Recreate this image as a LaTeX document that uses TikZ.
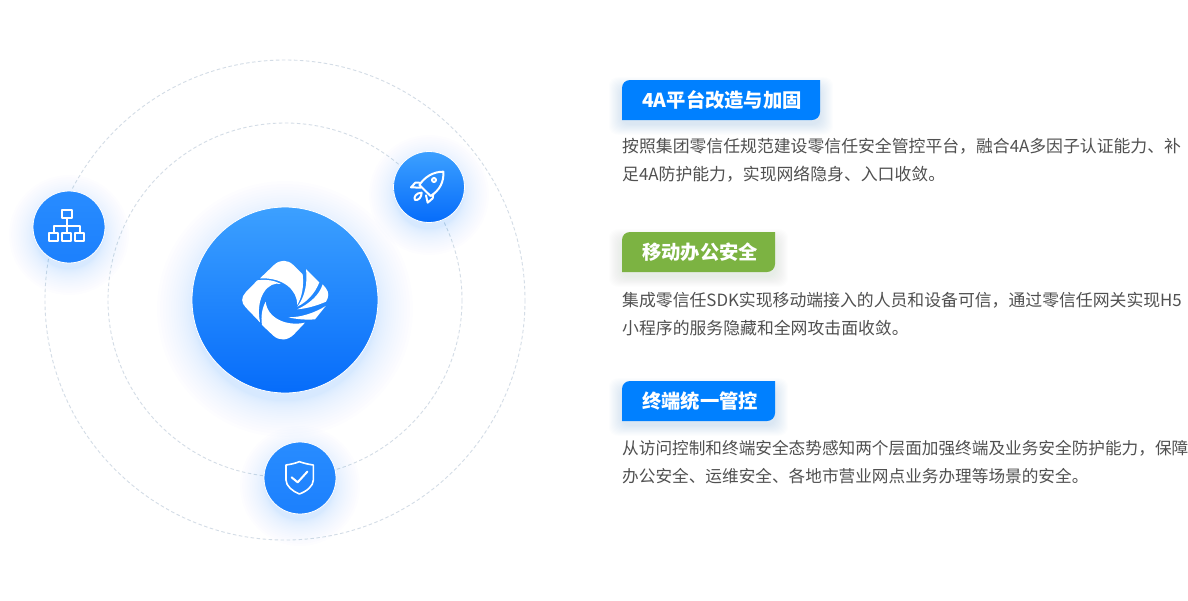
\documentclass[tikz,border=0pt]{standalone}
\usepackage{fontspec}
\setmainfont{Noto Sans CJK SC}
\usetikzlibrary{calc}

\definecolor{tagblue}{HTML}{0080FF}
\definecolor{taggreen}{HTML}{7CB342}
\definecolor{ringgray}{HTML}{D3DCE6}
\definecolor{bodygray}{HTML}{505050}
\definecolor{glowblue}{HTML}{1A7DFF}
\definecolor{hubhigh}{HTML}{3CA0FF}
\definecolor{hublow}{HTML}{066CFA}
\definecolor{ballhigh}{HTML}{288CFF}
\definecolor{balllow}{HTML}{1C80FD}

\tikzset{
	orbit/.style={draw=ringgray, line width=0.9pt, dash pattern=on 3.5pt off 2.5pt},
	ball/.style={circle, draw=white, line width=0.8pt, inner sep=0pt, shading angle=-42},
	iconline/.style={draw=white, line width=2pt, line join=round, line cap=round},
	tagtext/.style={anchor=west, inner sep=0pt, text=white, font=\fontsize{19.3}{21}\selectfont\bfseries},
	bodytext/.style={anchor=west, inner sep=0pt, text=bodygray, font=\fontsize{16.85}{20}\selectfont},
	bodytight/.style={bodytext, font=\fontsize{16.65}{20}\selectfont}
}

\begin{document}
\begin{tikzpicture}[x=1pt,y=-1pt]
	\path[use as bounding box, fill=white] (0,0) rectangle (1188,600);

	% Orbits
	\draw[orbit] (285,300) circle (240);
	\draw[orbit] (285,300) circle (177);

	% Soft glow under each ball: centre x, centre y, radius, spread
	\foreach \cx/\cy/\rad/\spread in {285/309/92/36, 429/195/34/26, 69/235/34/26, 300/486/34/26}
		{\foreach \k in {1,...,20}
			{\fill[glowblue, opacity=0.008] (\cx,\cy) circle ({\rad + \spread*(\k/20)^1.7});}}

	% Balls
	\node[ball, minimum size=186pt, top color=hubhigh, bottom color=hublow] (hub) at (285,300) {};
	\node[ball, minimum size=71pt, top color=hubhigh, bottom color=hublow] (rocket) at (429,187) {};
	\node[ball, minimum size=72pt, top color=ballhigh, bottom color=balllow] (network) at (69,227) {};
	\node[ball, minimum size=72pt, top color=ballhigh, bottom color=balllow] (shield) at (300,478) {};

	% Logo
	\begin{scope}[shift={(180,190)}, scale=1/3, fill=white]
		\fill (240,265) -- (282,225) .. controls (300,208) and (322,208) .. (340,225) -- (368,253)
			.. controls (372,290) and (366,320) .. (352,345) .. controls (352,300) and (310,262) .. (240,265) -- cycle;
		\fill (303,282) .. controls (265,272) and (225,320) .. (240,397) -- (197,352)
			.. controls (183,338) and (183,322) .. (197,307) -- (232,271) .. controls (260,267) and (285,272) .. (303,282) -- cycle;
		\fill (257,335) .. controls (262,385) and (320,410) .. (375,398) -- (342,433)
			.. controls (322,453) and (298,453) .. (280,437) -- (246,405) .. controls (242,380) and (246,355) .. (257,335) -- cycle;
		\fill (378,237) -- (418,277) .. controls (405,310) and (382,335) .. (352,350) .. controls (375,320) and (383,280) .. (378,237) -- cycle;
		\fill (428,283) -- (438,295) .. controls (448,308) and (446,322) .. (438,335) .. controls (415,345) and (385,355) .. (352,358) .. controls (390,340) and (418,315) .. (428,283) -- cycle;
		\fill (437,348) -- (405,388) .. controls (380,390) and (350,388) .. (325,382) .. controls (365,382) and (405,368) .. (437,348) -- cycle;
	\end{scope}

	% Rocket icon
	\begin{scope}[shift={(380,140)}, scale=1/3]
		\draw[iconline] (190,95) .. controls (160,95) and (135,110) .. (118,135) -- (152,168) .. controls (180,150) and (192,125) .. (190,95) -- cycle;
		\draw[iconline] (162,120) circle (6);
		\draw[iconline] (118,128) -- (106,128) -- (93,142) -- (122,143);
		\draw[iconline] (160,162) -- (158,175) -- (143,188) -- (138,166);
		\draw[iconline] (125,158) .. controls (108,158) and (100,172) .. (105,180) .. controls (115,182) and (125,172) .. (125,158) -- cycle;
	\end{scope}

	% Network icon
	\begin{scope}[shift={(20,180)}, scale=1/3]
		\draw[iconline, line cap=butt] (125,90) rectangle (157,115);
		\foreach \bx in {88,127,166}
			{\draw[iconline, line cap=butt] (\bx,160) rectangle ++(26,23);}
		\draw[iconline, line cap=butt] (140,115) -- (140,160);
		\draw[iconline, line cap=butt] (101,160) -- (101,138) -- (179,138) -- (179,160);
	\end{scope}

	% Shield icon
	\begin{scope}[shift={(250,430)}, scale=1/3]
		\draw[iconline, line width=1.6pt] (108,105) .. controls (122,103) and (136,100) .. (148,95) .. controls (162,100) and (176,103) .. (190,105)
			-- (190,150) .. controls (190,168) and (170,184) .. (148,192) .. controls (128,184) and (108,168) .. (108,150) -- cycle;
		\draw[iconline] (125,142) -- (143,157) -- (172,125);
	\end{scope}

	% Tag bars: top, right end, colour, text
	\foreach \ty/\tx/\tcol/\tname/\tlabel in {80/820/tagblue/tagone/4A平台改造与加固, 232/775/taggreen/tagtwo/移动办公安全, 381/775/tagblue/tagthree/终端统一管控}
		{
		\foreach \k in {1,...,12}
			{\fill[\tcol!60!gray, opacity=0.012, rounded corners=9pt] ($(622-\k*1.1,\ty+8-\k*0.9)$) rectangle ($(\tx+\k*1.1,\ty+44+\k*0.9)$);}
		\fill[\tcol] (622,\ty+40) [rounded corners=8pt] -- (622,\ty) [sharp corners] -- (\tx,\ty) [rounded corners=8pt] -- (\tx,\ty+40) [sharp corners] -- cycle;
		\node[tagtext] (\tname) at (642,\ty+20) {\tlabel};
		}

	% Descriptions
	\node[bodytext] (descone) at (622,146) {按照集团零信任规范建设零信任安全管控平台，融合4A多因子认证能力、补};
	\node[bodytext] (desconeb) at (622,174) {足4A防护能力，实现网络隐身、入口收敛。};
	\node[bodytext] (desctwo) at (622,300) {集成零信任SDK实现移动端接入的人员和设备可信，通过零信任网关实现H5};
	\node[bodytext] (desctwob) at (622,328) {小程序的服务隐藏和全网攻击面收敛。};
	\node[bodytight] (descthree) at (622,448) {从访问控制和终端安全态势感知两个层面加强终端及业务安全防护能力，保障};
	\node[bodytight] (descthreeb) at (622,476) {办公安全、运维安全、各地市营业网点业务办理等场景的安全。};
\end{tikzpicture}
\end{document}
